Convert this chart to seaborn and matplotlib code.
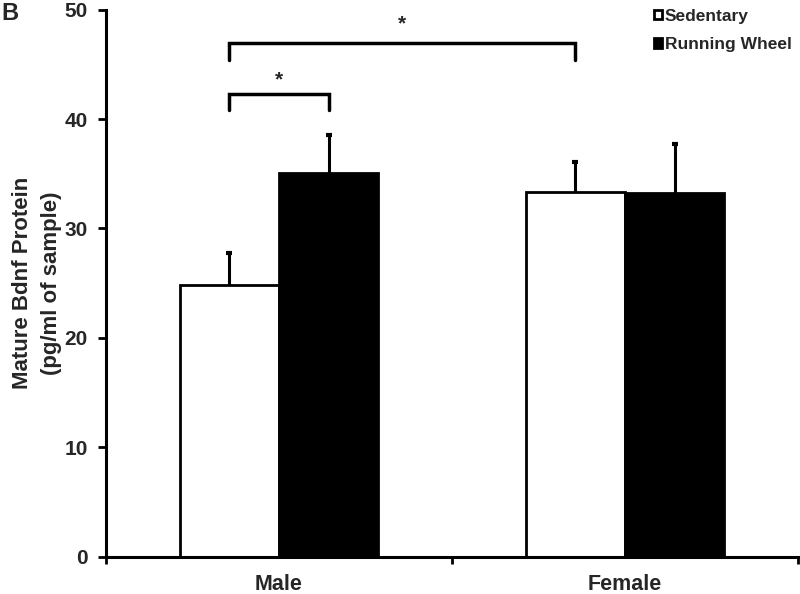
import matplotlib
matplotlib.use("Agg")
import matplotlib.pyplot as plt
from matplotlib.patches import Patch
import seaborn as sns
import pandas as pd
import numpy as np

# ---- data ----
sexes = ["Male", "Female"]
groups = ["Sedentary", "Running Wheel"]
sedentary_means = [24.8, 33.3]
running_means = [35.1, 33.2]
sedentary_err = [3.0, 2.8]
running_err = [3.4, 4.5]
y_ticks = [0, 10, 20, 30, 40, 50]

sns.set_theme(style="white")
plt.rcParams["font.family"] = ["Liberation Sans", "DejaVu Sans"]
plt.rcParams["font.weight"] = "bold"

df = pd.DataFrame({
    "sex": sexes * 2,
    "group": [groups[0]] * 2 + [groups[1]] * 2,
    "value": sedentary_means + running_means,
})

fig = plt.figure(figsize=(8, 5.94), dpi=100)
ax = fig.add_axes([0.1325, 0.0623, 0.865, 0.9217])

sns.barplot(data=df, x="sex", y="value", hue="group", order=sexes,
            hue_order=groups, palette=["white", "black"], edgecolor="black",
            linewidth=2, width=0.575, gap=0, errorbar=None, legend=False,
            ax=ax, saturation=1)

errs = [sedentary_err, running_err]
bar_containers = list(ax.containers)
centers = {}
for ci, cont in enumerate(bar_containers):
    for b in cont:
        b.set_zorder(2)
    xs = [b.get_x() + b.get_width() / 2 for b in cont]
    hs = [b.get_height() for b in cont]
    centers[ci] = xs
    # symmetric bars drawn beneath the bars: only the upper half shows
    ax.errorbar(xs, hs, yerr=errs[ci], fmt="none",
                ecolor="black", elinewidth=2.2, capsize=2.5, capthick=3,
                zorder=1)

ax.set_xlim(-0.5, 1.5)
ax.set_ylim(0, 50)
ax.set_yticks(y_ticks)
ax.set_yticklabels([str(t) for t in y_ticks], fontsize=15, fontweight="bold")
ax.set_xticks([0, 1])
ax.set_xticklabels(sexes, fontsize=15.5, fontweight="bold")
ax.set_xticks([-0.5, 0.5, 1.5], minor=True)
ax.tick_params(axis="x", which="major", length=0, pad=12.5)
ax.tick_params(axis="x", which="minor", length=5, width=2, direction="out",
               bottom=True, color="black")
ax.tick_params(axis="y", length=6, width=2, direction="out", left=True,
               pad=7, color="black")
ax.set_xlabel("")
ax.set_ylabel("Mature Bdnf Protein\n(pg/ml of sample)", fontsize=16,
              fontweight="bold", labelpad=2, linespacing=1.5)
sns.despine(ax=ax)
for s in ["left", "bottom"]:
    ax.spines[s].set_linewidth(2.2)
    ax.spines[s].set_color("black")

# significance brackets
def bracket(x1, x2, y, drop, star_y):
    ax.plot([x1, x1, x2, x2], [y - drop, y, y, y - drop], color="black",
            lw=2.5, clip_on=False, solid_joinstyle="miter")
    ax.text((x1 + x2) / 2, star_y, "*", ha="center", va="center",
            fontsize=15, fontweight="bold")

# Male sedentary vs Male running wheel
bracket(centers[0][0], centers[1][0], 42.26, 1.45, 43.6)
# Male sedentary vs Female sedentary
bracket(centers[0][0], centers[0][1], 46.97, 1.55, 48.7)

handles = [Patch(facecolor="white", edgecolor="black", linewidth=2),
           Patch(facecolor="black", edgecolor="black", linewidth=2)]
fig.legend(handles, groups, loc="upper left",
           bbox_to_anchor=(645 / 800, 1 - 0 / 594), frameon=False,
           prop={"size": 12.5, "weight": "bold"}, handlelength=0.5,
           handleheight=0.5, handletextpad=0.15, borderpad=0,
           labelspacing=0.78)

fig.text(0.002, 1 - 13 / 594, "B", fontsize=17, fontweight="bold",
         va="center", ha="left")

fig.savefig("out.png", dpi=100)
